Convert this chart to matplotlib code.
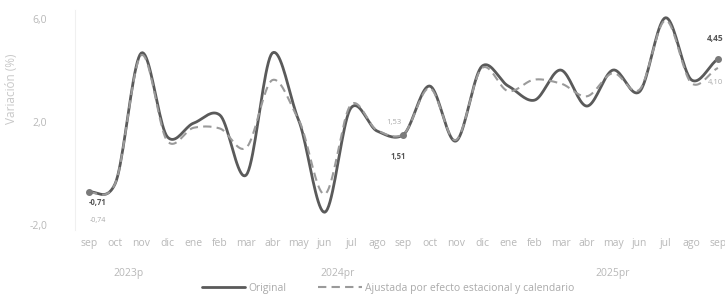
import numpy as np
import matplotlib.pyplot as plt

# Datos (variación %, sep 2023 - sep 2025)
meses = ['sep', 'oct', 'nov', 'dic', 'ene', 'feb', 'mar', 'abr', 'may', 'jun', 'jul', 'ago',
         'sep', 'oct', 'nov', 'dic', 'ene', 'feb', 'mar', 'abr', 'may', 'jun', 'jul', 'ago', 'sep']
original = [-0.71, -0.40, 4.68, 1.42, 1.96, 2.27, -0.06, 4.68, 2.08, -1.50, 2.55, 1.65,
            1.51, 3.40, 1.26, 4.17, 3.40, 2.85, 4.02, 2.62, 4.02, 3.17, 6.05, 3.63, 4.45]
ajustada = [-0.74, -0.40, 4.60, 1.25, 1.78, 1.75, 1.00, 3.63, 2.10, -0.80, 2.68, 1.68,
            1.53, 3.32, 1.30, 4.10, 3.20, 3.65, 3.50, 3.00, 3.90, 3.25, 5.95, 3.50, 4.10]
anios = ['2023p', '2024pr', '2025pr']
anio_rango = [(0, 3), (4, 15), (16, 24)]


def suavizar(y, s=0.4, n=20):
    # spline cardinal (hermite) entre los puntos
    y = np.asarray(y, dtype=float)
    m = np.zeros_like(y)
    m[1:-1] = s * (y[2:] - y[:-2])
    m[0] = s * (y[1] - y[0])
    m[-1] = s * 2 * (y[-1] - y[-2])
    t = np.linspace(0, 1, n, endpoint=False)
    h00 = 2 * t ** 3 - 3 * t ** 2 + 1
    h10 = t ** 3 - 2 * t ** 2 + t
    h01 = -2 * t ** 3 + 3 * t ** 2
    h11 = t ** 3 - t ** 2
    xs, ys = [], []
    for i in range(len(y) - 1):
        xs.append(i + t)
        ys.append(h00 * y[i] + h10 * m[i] + h01 * y[i + 1] + h11 * m[i + 1])
    xs.append([len(y) - 1])
    ys.append([y[-1]])
    return np.concatenate(xs), np.concatenate(ys)


plt.rcParams['font.family'] = ['Open Sans', 'DejaVu Sans']
gris_txt = '#b8b8b8'

fig = plt.figure(figsize=(7.25, 2.97), dpi=100)
ax = fig.add_axes([0.1034, 0.2256, 0.8966, 0.7407])

x = np.arange(len(meses))
xs, ys = suavizar(original)
ax.plot(xs, ys, color='#5a5a5a', lw=2.0, label='Original', solid_capstyle='round')
xa, ya = suavizar(ajustada)
ax.plot(xa, ya, color='#9a9a9a', lw=1.5, ls=(0, (4, 2.5)),
        label='Ajustada por efecto estacional y calendario')
ax.scatter([x[0], x[12], x[-1]], [original[0], original[12], original[-1]],
           s=16, color='#7a7a7a', zorder=3)


# etiquetas de datos
def fmt(v):
    return f'{v:.2f}'.replace('.', ',')


ax.text(x[0] + 0.35, original[0] - 0.42, fmt(original[0]), fontsize=5.5, color='#555555',
        ha='center', va='center', fontweight='bold')
ax.text(x[0] + 0.35, ajustada[0] - 1.1, fmt(ajustada[0]), fontsize=5, color='#aaaaaa',
        ha='center', va='center')
ax.text(x[12] - 0.35, ajustada[12] + 0.45, fmt(ajustada[12]), fontsize=5.5, color='#aaaaaa',
        ha='center', va='center')
ax.text(x[12] - 0.2, original[12] - 0.85, fmt(original[12]), fontsize=5.5, color='#555555',
        ha='center', va='center', fontweight='bold')
ax.text(0.997, original[-1] + 0.8, fmt(original[-1]), fontsize=6, color='#555555',
        ha='right', va='center', fontweight='bold', transform=ax.get_yaxis_transform())
ax.text(0.997, ajustada[-1] - 0.55, fmt(ajustada[-1]), fontsize=5.5, color='#aaaaaa',
        ha='right', va='center', transform=ax.get_yaxis_transform())

ax.set_xlim(-0.53, 24.27)
ax.set_ylim(-2.19, 6.35)
ax.set_xticks(x)
ax.set_xticklabels(meses, fontsize=7.5, color=gris_txt)
ax.set_yticks([-2, 2, 6])
ax.set_yticklabels(['-2,0', '2,0', '6,0'], fontsize=7.5, color=gris_txt)
ax.tick_params(axis='both', length=0)
ax.tick_params(axis='x', pad=6)
ax.tick_params(axis='y', pad=20)
for s in ['top', 'right', 'bottom']:
    ax.spines[s].set_visible(False)
ax.spines['left'].set_color('#f0f0f0')
ax.set_ylabel('Variación (%)', fontsize=8.5, color='#c8c8c8')
ax.yaxis.set_label_coords(-0.088, 0.64)

# años
for nombre, (a, b) in zip(anios, anio_rango):
    ax.text((a + b) / 2, -0.2, nombre, transform=ax.get_xaxis_transform(),
            fontsize=7.5, color=gris_txt, ha='center', va='center')

ax.legend(loc='center', bbox_to_anchor=(0.535, 0.03), bbox_transform=fig.transFigure,
          ncol=2, frameon=False, fontsize=7.5, labelcolor='#aaaaaa', handlelength=4.2,
          columnspacing=3, handletextpad=0.3)

fig.savefig('out.png', dpi=100)
